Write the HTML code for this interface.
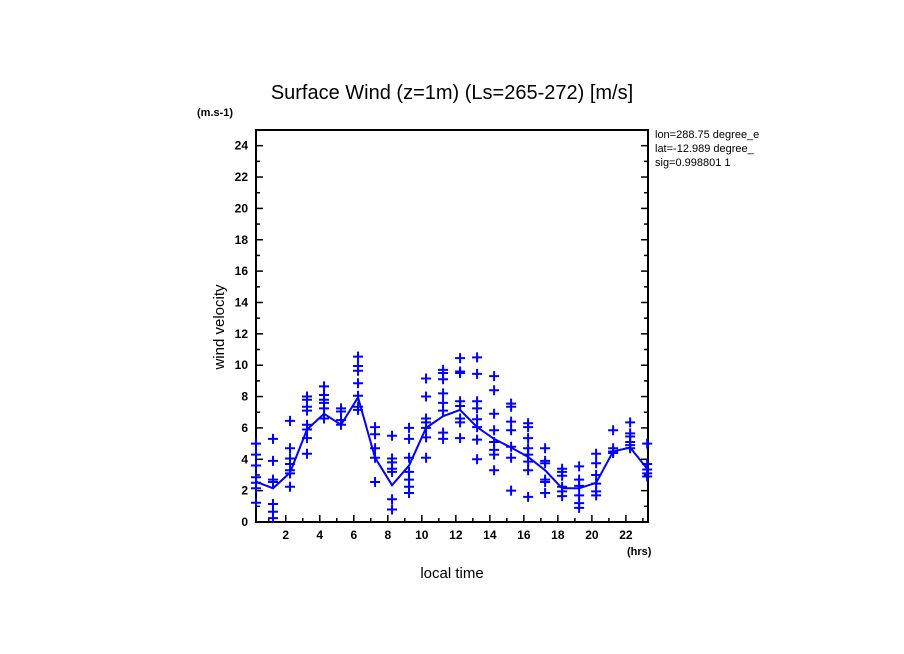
<!DOCTYPE html>
<html><head><meta charset="utf-8"><style>
body{margin:0;background:#fff;}
svg{display:block;font-family:"Liberation Sans",sans-serif;}
</style></head><body>
<svg id="chart" width="904" height="654">
<text x="452" y="99" text-anchor="middle" font-size="20">Surface Wind (z=1m) (Ls=265-272) [m/s]</text>
<text x="197" y="116" font-size="11" font-weight="bold">(m.s-1)</text>
<text x="224" y="327" font-size="15" text-anchor="middle" transform="rotate(-90 224 327)">wind velocity</text>
<text x="452" y="578" font-size="15" text-anchor="middle">local time</text>
<text x="627" y="555" font-size="11" font-weight="bold">(hrs)</text>
<g font-size="11">
<text x="655" y="138">lon=288.75 degree_e</text>
<text x="655" y="152">lat=-12.989 degree_</text>
<text x="655" y="166">sig=0.998801 1</text>
</g>
<rect x="652" y="125" width="140" height="50" fill="#fff"/>
<g font-size="11">
<text x="655" y="138">lon=288.75 degree_e</text>
<text x="655" y="152">lat=-12.989 degree_</text>
<text x="655" y="166">sig=0.998801 1</text>
</g>
<g id="axes"></g>
<g id="marks"></g>
</svg>
<script>
const hours = [0.25,1.25,2.25,3.25,4.25,5.25,6.25,7.25,8.25,9.25,10.25,11.25,12.25,13.25,14.25,15.25,16.25,17.25,18.25,19.25,20.25,21.25,22.25,23.25];
const meanWind = [2.57,2.15,3.15,5.9,6.9,6.2,7.95,4.1,2.35,3.6,6.0,6.75,7.15,6.05,5.3,4.75,4.15,3.3,2.15,2.15,2.5,4.5,4.75,3.4];
const samples = [
[5.0,4.3,3.6,2.85,2.5,2.15,1.23],
[5.3,3.9,2.7,2.55,1.15,0.65,0.25],
[6.45,4.7,4.05,3.7,3.3,3.1,2.25],
[8.0,7.8,7.35,7.1,6.2,5.9,5.35,4.35],
[8.65,8.1,7.8,7.6,7.25,6.6],
[7.25,7.05,6.5,6.2],
[10.55,9.95,9.65,8.85,8.05,7.35,7.15],
[6.05,5.6,4.7,4.1,2.55],
[5.5,4.05,3.8,3.4,3.2,1.45,0.8],
[6.0,5.3,4.1,3.2,2.7,2.25,1.85],
[9.15,8.0,6.6,6.35,6.0,5.4,4.1],
[9.7,9.5,9.1,8.2,7.6,7.1,5.7,5.3],
[10.45,9.6,9.5,7.7,7.4,6.6,6.35,5.35],
[10.5,9.45,7.7,7.25,6.55,6.05,5.25,4.0],
[9.3,8.4,6.9,5.85,5.1,4.6,4.3,3.3],
[7.55,7.35,6.4,5.85,4.8,4.1,2.0],
[6.3,6.05,5.35,4.7,4.3,3.85,3.3,1.6],
[4.7,3.9,3.75,2.7,2.55,1.85],
[3.4,3.2,2.95,2.25,1.95,1.65],
[3.55,2.7,2.3,1.7,1.2,0.9],
[4.35,3.75,3.0,2.45,1.95,1.7],
[5.85,4.7,4.5,4.4],
[6.35,5.65,5.45,5.1,4.9,4.7],
[5.0,3.7,3.35,3.1,2.9]
];
const yTicks = [0,2,4,6,8,10,12,14,16,18,20,22,24];
const xTicks = [2,4,6,8,10,12,14,16,18,20,22];

const L=256,R=648,T=130,B=522, X0=0.25,X1=23.3, Y0=0,Y1=25;
const NS="http://www.w3.org/2000/svg";
function xs(v){return L+(v-X0)/(X1-X0)*(R-L);}
function ys(v){return B-(v-Y0)/(Y1-Y0)*(B-T);}
function mk(tag,attrs,parent){const e=document.createElementNS(NS,tag);for(const k in attrs)e.setAttribute(k,attrs[k]);parent.appendChild(e);return e;}
const axes=document.getElementById('axes'), marks=document.getElementById('marks');
const frame=mk('rect',{x:L,y:T,width:R-L,height:B-T,fill:'none',stroke:'#000','stroke-width':2},axes);


for(let v=1;v<25;v++){
  const y=ys(v), len=(v%2===0)?7:4;
  const t1=mk('line',{x1:L,x2:L+len,y1:y,y2:y,stroke:'#000','stroke-width':1.5},axes);
  
  
  const t2=mk('line',{x1:R,x2:R-len,y1:y,y2:y,stroke:'#000','stroke-width':1.5},axes);
  
  
}
yTicks.forEach(v=>{
  const t=mk('text',{x:L-8,y:ys(v)+4,'text-anchor':'end','font-size':12,'font-weight':'bold'},axes);
  t.textContent=v;
  
  
});
for(let h=1;h<=23;h++){
  const x=xs(h), len=(h%2===0)?7:4;
  const t=mk('line',{x1:x,x2:x,y1:B,y2:B-len,stroke:'#000','stroke-width':1.5},axes);
  
  
}
xTicks.forEach(v=>{
  const t=mk('text',{x:xs(v),y:B+17,'text-anchor':'middle','font-size':12,'font-weight':'bold'},axes);
  t.textContent=v;
  
  
});
const line=mk('polyline',{points:hours.map((h,i)=>xs(h)+','+ys(meanWind[i])).join(' '),fill:'none',stroke:'#0000ff','stroke-width':2},marks);


samples.forEach((arr,i)=>{
  arr.forEach(v=>{
    const x=xs(hours[i]), y=ys(v);
    const p=mk('path',{d:`M${x-5} ${y}H${x+5}M${x} ${y-5}V${y+5}`,stroke:'#0000ff','stroke-width':2,fill:'none'},marks);
    
    
  });
});
</script>
</body></html>
